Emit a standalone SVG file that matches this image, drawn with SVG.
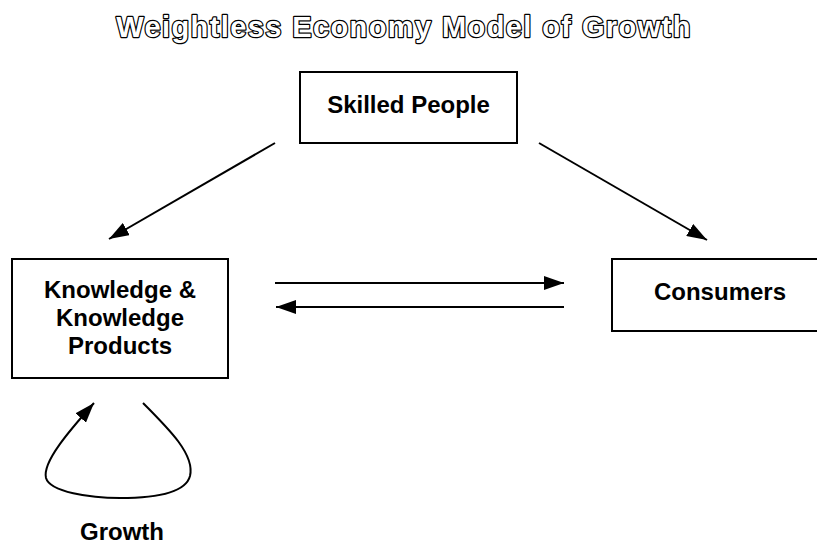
<svg xmlns="http://www.w3.org/2000/svg" width="817" height="547" viewBox="0 0 817 547">
<defs>
<style>
.box{fill:#fff;stroke:#000;stroke-width:2}
.lbl{font-family:"Liberation Sans",Arial,sans-serif;font-weight:bold;font-size:24px;fill:#000;text-anchor:middle}
.title{font-family:"Liberation Sans",Arial,sans-serif;font-weight:bold;font-size:29px;fill:#fff;stroke:#000;stroke-width:2.4;stroke-linejoin:round;paint-order:stroke;text-anchor:middle;letter-spacing:1.4px}
.con{fill:none;stroke:#000;stroke-width:2}
</style>
<marker id="ah" viewBox="0 0 20 14" refX="20" refY="7" markerWidth="20" markerHeight="14" markerUnits="userSpaceOnUse" orient="auto">
<path d="M0,0 L20,7 L0,14 Z" fill="#000"/>
</marker>
</defs>
<rect width="817" height="547" fill="#fff"/>
<text class="title" x="404" y="37">Weightless Economy Model of Growth</text>
<g id="skilled-people">
<rect class="box" x="300" y="72" width="217" height="71"/>
<text class="lbl" x="408.5" y="113">Skilled People</text>
</g>
<g id="knowledge">
<rect class="box" x="12" y="259" width="216" height="119"/>
<text class="lbl" x="120" y="298">Knowledge &amp;</text>
<text class="lbl" x="120" y="326">Knowledge</text>
<text class="lbl" x="120" y="354">Products</text>
</g>
<g id="consumers">
<rect class="box" x="612" y="259" width="230" height="72"/>
<text class="lbl" x="720" y="300">Consumers</text>
</g>
<g id="growth">
<text class="lbl" x="122" y="540">Growth</text>
</g>
<g id="connectors">
<line class="con" x1="275" y1="143" x2="109" y2="239" marker-end="url(#ah)"/>
<line class="con" x1="539" y1="143" x2="707" y2="240" marker-end="url(#ah)"/>
<line class="con" x1="275" y1="283" x2="564" y2="283" marker-end="url(#ah)"/>
<line class="con" x1="564" y1="307" x2="276" y2="307" marker-end="url(#ah)"/>
<path class="con" d="M143,403 C170,430 195,455 190,476 C185,495 150,498 120,498 C90,498 50,492 46,478 C42,462 70,430 94,403" marker-end="url(#ah)"/>
</g>
</svg>
